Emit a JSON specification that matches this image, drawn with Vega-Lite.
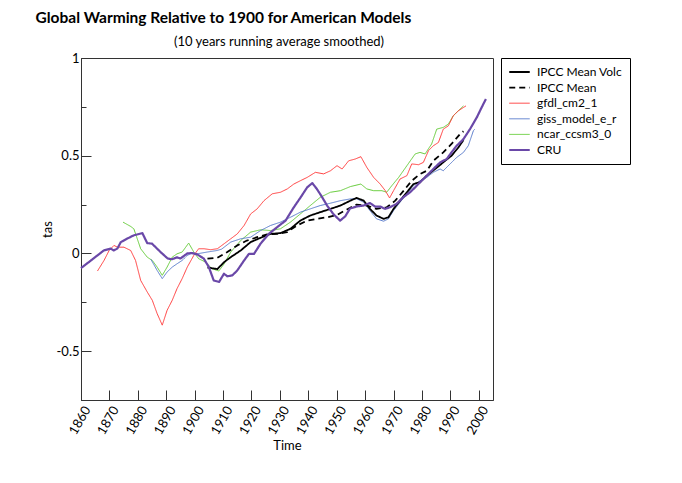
{
  "$schema": "https://vega.github.io/schema/vega-lite/v6.json",
  "padding": {"left": 35, "top": 11, "right": 5, "bottom": 5},
  "config": {
    "font": "Lato",
    "view": {"stroke": "#333", "strokeWidth": 1},
    "axis": {"labelFont": "Lato", "titleFont": "Lato", "labelFontSize": 13, "titleFontSize": 13, "titleFontWeight": "normal", "domainColor": "#333", "tickColor": "#333", "labelColor": "#000", "titleColor": "#000", "grid": false},
    "legend": {"labelFont": "Lato", "labelFontSize": 12}
  },
  "title": {"text": "Global Warming Relative to 1900 for American Models", "anchor": "start", "font": "Lato", "fontSize": 15.5, "fontWeight": "bold", "color": "#000", "dx": -5, "offset": 9},
  "vconcat": [
    {
      "title": {"text": "(10 years running average smoothed)", "font": "Lato", "fontSize": 13, "fontWeight": "normal", "anchor": "middle", "color": "#000", "dx": -8, "offset": 3},
      "width": 412,
      "height": 342,
      "data": {"values": [
        {"series": "ncar_ccsm3_0", "year": 1874.8, "tas": 0.16},
        {"series": "ncar_ccsm3_0", "year": 1877.5, "tas": 0.138},
        {"series": "ncar_ccsm3_0", "year": 1878.6, "tas": 0.126},
        {"series": "ncar_ccsm3_0", "year": 1879.8, "tas": 0.075},
        {"series": "ncar_ccsm3_0", "year": 1881, "tas": 0.024},
        {"series": "ncar_ccsm3_0", "year": 1883.3, "tas": -0.019},
        {"series": "ncar_ccsm3_0", "year": 1885.1, "tas": -0.036},
        {"series": "ncar_ccsm3_0", "year": 1886.8, "tas": -0.07},
        {"series": "ncar_ccsm3_0", "year": 1888.6, "tas": -0.112},
        {"series": "ncar_ccsm3_0", "year": 1890.3, "tas": -0.07},
        {"series": "ncar_ccsm3_0", "year": 1892.1, "tas": -0.019},
        {"series": "ncar_ccsm3_0", "year": 1893.8, "tas": -0.002},
        {"series": "ncar_ccsm3_0", "year": 1895.6, "tas": 0.007},
        {"series": "ncar_ccsm3_0", "year": 1897.9, "tas": 0.053},
        {"series": "ncar_ccsm3_0", "year": 1899.7, "tas": 0.007},
        {"series": "ncar_ccsm3_0", "year": 1901.4, "tas": -0.027},
        {"series": "ncar_ccsm3_0", "year": 1903.8, "tas": -0.044},
        {"series": "ncar_ccsm3_0", "year": 1906.1, "tas": -0.078},
        {"series": "ncar_ccsm3_0", "year": 1908.5, "tas": -0.09},
        {"series": "ncar_ccsm3_0", "year": 1910.4, "tas": -0.053},
        {"series": "ncar_ccsm3_0", "year": 1912.7, "tas": 0.007},
        {"series": "ncar_ccsm3_0", "year": 1916.2, "tas": 0.066},
        {"series": "ncar_ccsm3_0", "year": 1919.7, "tas": 0.109},
        {"series": "ncar_ccsm3_0", "year": 1923.2, "tas": 0.121},
        {"series": "ncar_ccsm3_0", "year": 1926.7, "tas": 0.117},
        {"series": "ncar_ccsm3_0", "year": 1930.2, "tas": 0.126},
        {"series": "ncar_ccsm3_0", "year": 1933.7, "tas": 0.16},
        {"series": "ncar_ccsm3_0", "year": 1937.2, "tas": 0.202},
        {"series": "ncar_ccsm3_0", "year": 1940.7, "tas": 0.245},
        {"series": "ncar_ccsm3_0", "year": 1944.2, "tas": 0.287},
        {"series": "ncar_ccsm3_0", "year": 1947.8, "tas": 0.313},
        {"series": "ncar_ccsm3_0", "year": 1951.3, "tas": 0.321},
        {"series": "ncar_ccsm3_0", "year": 1954.8, "tas": 0.342},
        {"series": "ncar_ccsm3_0", "year": 1958.5, "tas": 0.355},
        {"series": "ncar_ccsm3_0", "year": 1960.6, "tas": 0.33},
        {"series": "ncar_ccsm3_0", "year": 1963, "tas": 0.321},
        {"series": "ncar_ccsm3_0", "year": 1965.9, "tas": 0.321},
        {"series": "ncar_ccsm3_0", "year": 1967.6, "tas": 0.313},
        {"series": "ncar_ccsm3_0", "year": 1969.4, "tas": 0.347},
        {"series": "ncar_ccsm3_0", "year": 1971.8, "tas": 0.389},
        {"series": "ncar_ccsm3_0", "year": 1974.7, "tas": 0.449},
        {"series": "ncar_ccsm3_0", "year": 1977.6, "tas": 0.509},
        {"series": "ncar_ccsm3_0", "year": 1979.3, "tas": 0.517},
        {"series": "ncar_ccsm3_0", "year": 1981.1, "tas": 0.509},
        {"series": "ncar_ccsm3_0", "year": 1983.4, "tas": 0.56},
        {"series": "ncar_ccsm3_0", "year": 1985.2, "tas": 0.636},
        {"series": "ncar_ccsm3_0", "year": 1987.5, "tas": 0.645},
        {"series": "ncar_ccsm3_0", "year": 1989.3, "tas": 0.662},
        {"series": "ncar_ccsm3_0", "year": 1991, "tas": 0.704},
        {"series": "ncar_ccsm3_0", "year": 1992.8, "tas": 0.73},
        {"series": "ncar_ccsm3_0", "year": 1994.6, "tas": 0.755},
        {"series": "giss_model_e_r", "year": 1884.6, "tas": -0.03},
        {"series": "giss_model_e_r", "year": 1886.8, "tas": -0.087},
        {"series": "giss_model_e_r", "year": 1888.6, "tas": -0.129},
        {"series": "giss_model_e_r", "year": 1890.3, "tas": -0.095},
        {"series": "giss_model_e_r", "year": 1892.1, "tas": -0.07},
        {"series": "giss_model_e_r", "year": 1893.8, "tas": -0.053},
        {"series": "giss_model_e_r", "year": 1895.6, "tas": -0.036},
        {"series": "giss_model_e_r", "year": 1897.4, "tas": -0.01},
        {"series": "giss_model_e_r", "year": 1899.1, "tas": 0.002},
        {"series": "giss_model_e_r", "year": 1900.9, "tas": -0.002},
        {"series": "giss_model_e_r", "year": 1904.4, "tas": 0.007},
        {"series": "giss_model_e_r", "year": 1907.9, "tas": 0.015},
        {"series": "giss_model_e_r", "year": 1909.5, "tas": 0.022},
        {"series": "giss_model_e_r", "year": 1912.7, "tas": 0.058},
        {"series": "giss_model_e_r", "year": 1916.2, "tas": 0.075},
        {"series": "giss_model_e_r", "year": 1919.7, "tas": 0.083},
        {"series": "giss_model_e_r", "year": 1923.2, "tas": 0.117},
        {"series": "giss_model_e_r", "year": 1926.7, "tas": 0.143},
        {"series": "giss_model_e_r", "year": 1930.2, "tas": 0.16},
        {"series": "giss_model_e_r", "year": 1933.7, "tas": 0.185},
        {"series": "giss_model_e_r", "year": 1937.2, "tas": 0.211},
        {"series": "giss_model_e_r", "year": 1940.7, "tas": 0.228},
        {"series": "giss_model_e_r", "year": 1944.2, "tas": 0.245},
        {"series": "giss_model_e_r", "year": 1947.8, "tas": 0.257},
        {"series": "giss_model_e_r", "year": 1951.3, "tas": 0.27},
        {"series": "giss_model_e_r", "year": 1954.8, "tas": 0.279},
        {"series": "giss_model_e_r", "year": 1957, "tas": 0.28},
        {"series": "giss_model_e_r", "year": 1959.5, "tas": 0.262},
        {"series": "giss_model_e_r", "year": 1961.7, "tas": 0.219},
        {"series": "giss_model_e_r", "year": 1964, "tas": 0.177},
        {"series": "giss_model_e_r", "year": 1966.5, "tas": 0.165},
        {"series": "giss_model_e_r", "year": 1968.2, "tas": 0.177},
        {"series": "giss_model_e_r", "year": 1970, "tas": 0.219},
        {"series": "giss_model_e_r", "year": 1972.3, "tas": 0.262},
        {"series": "giss_model_e_r", "year": 1974.7, "tas": 0.304},
        {"series": "giss_model_e_r", "year": 1977, "tas": 0.347},
        {"series": "giss_model_e_r", "year": 1979.3, "tas": 0.372},
        {"series": "giss_model_e_r", "year": 1981.7, "tas": 0.389},
        {"series": "giss_model_e_r", "year": 1984, "tas": 0.415},
        {"series": "giss_model_e_r", "year": 1986.4, "tas": 0.432},
        {"series": "giss_model_e_r", "year": 1987.5, "tas": 0.423},
        {"series": "giss_model_e_r", "year": 1989.9, "tas": 0.458},
        {"series": "giss_model_e_r", "year": 1992.2, "tas": 0.491},
        {"series": "giss_model_e_r", "year": 1994.6, "tas": 0.517},
        {"series": "giss_model_e_r", "year": 1996.3, "tas": 0.551},
        {"series": "giss_model_e_r", "year": 1998.1, "tas": 0.628},
        {"series": "giss_model_e_r", "year": 1998.6, "tas": 0.636},
        {"series": "gfdl_cm2_1", "year": 1865.8, "tas": -0.09},
        {"series": "gfdl_cm2_1", "year": 1868.1, "tas": -0.036},
        {"series": "gfdl_cm2_1", "year": 1869.9, "tas": 0.015},
        {"series": "gfdl_cm2_1", "year": 1871.6, "tas": 0.041},
        {"series": "gfdl_cm2_1", "year": 1872.8, "tas": 0.032},
        {"series": "gfdl_cm2_1", "year": 1875.1, "tas": 0.032},
        {"series": "gfdl_cm2_1", "year": 1877.5, "tas": 0.015},
        {"series": "gfdl_cm2_1", "year": 1879.2, "tas": -0.036},
        {"series": "gfdl_cm2_1", "year": 1881, "tas": -0.138},
        {"series": "gfdl_cm2_1", "year": 1883.3, "tas": -0.197},
        {"series": "gfdl_cm2_1", "year": 1885.1, "tas": -0.24},
        {"series": "gfdl_cm2_1", "year": 1886.8, "tas": -0.308},
        {"series": "gfdl_cm2_1", "year": 1888.6, "tas": -0.367},
        {"series": "gfdl_cm2_1", "year": 1890.3, "tas": -0.291},
        {"series": "gfdl_cm2_1", "year": 1892.1, "tas": -0.24},
        {"series": "gfdl_cm2_1", "year": 1893.8, "tas": -0.18},
        {"series": "gfdl_cm2_1", "year": 1895.6, "tas": -0.129},
        {"series": "gfdl_cm2_1", "year": 1897.4, "tas": -0.07},
        {"series": "gfdl_cm2_1", "year": 1899.7, "tas": -0.01},
        {"series": "gfdl_cm2_1", "year": 1901.4, "tas": 0.024},
        {"series": "gfdl_cm2_1", "year": 1903.3, "tas": 0.024},
        {"series": "gfdl_cm2_1", "year": 1905.6, "tas": 0.019},
        {"series": "gfdl_cm2_1", "year": 1908, "tas": 0.024},
        {"series": "gfdl_cm2_1", "year": 1910.4, "tas": 0.05},
        {"series": "gfdl_cm2_1", "year": 1912.7, "tas": 0.075},
        {"series": "gfdl_cm2_1", "year": 1915, "tas": 0.1},
        {"series": "gfdl_cm2_1", "year": 1917.4, "tas": 0.143},
        {"series": "gfdl_cm2_1", "year": 1919.7, "tas": 0.202},
        {"series": "gfdl_cm2_1", "year": 1922, "tas": 0.228},
        {"series": "gfdl_cm2_1", "year": 1924.4, "tas": 0.27},
        {"series": "gfdl_cm2_1", "year": 1927.3, "tas": 0.305},
        {"series": "gfdl_cm2_1", "year": 1930.2, "tas": 0.313},
        {"series": "gfdl_cm2_1", "year": 1932.6, "tas": 0.33},
        {"series": "gfdl_cm2_1", "year": 1934.9, "tas": 0.355},
        {"series": "gfdl_cm2_1", "year": 1937.2, "tas": 0.372},
        {"series": "gfdl_cm2_1", "year": 1939.6, "tas": 0.389},
        {"series": "gfdl_cm2_1", "year": 1942.5, "tas": 0.415},
        {"series": "gfdl_cm2_1", "year": 1945.4, "tas": 0.407},
        {"series": "gfdl_cm2_1", "year": 1947.8, "tas": 0.423},
        {"series": "gfdl_cm2_1", "year": 1950.1, "tas": 0.449},
        {"series": "gfdl_cm2_1", "year": 1951.9, "tas": 0.432},
        {"series": "gfdl_cm2_1", "year": 1954.2, "tas": 0.474},
        {"series": "gfdl_cm2_1", "year": 1956.5, "tas": 0.483},
        {"series": "gfdl_cm2_1", "year": 1958.5, "tas": 0.495},
        {"series": "gfdl_cm2_1", "year": 1960.6, "tas": 0.44},
        {"series": "gfdl_cm2_1", "year": 1963, "tas": 0.389},
        {"series": "gfdl_cm2_1", "year": 1965.3, "tas": 0.355},
        {"series": "gfdl_cm2_1", "year": 1967.1, "tas": 0.321},
        {"series": "gfdl_cm2_1", "year": 1968.6, "tas": 0.284},
        {"series": "gfdl_cm2_1", "year": 1970, "tas": 0.321},
        {"series": "gfdl_cm2_1", "year": 1972.3, "tas": 0.381},
        {"series": "gfdl_cm2_1", "year": 1974.7, "tas": 0.398},
        {"series": "gfdl_cm2_1", "year": 1976.4, "tas": 0.458},
        {"series": "gfdl_cm2_1", "year": 1978.8, "tas": 0.454},
        {"series": "gfdl_cm2_1", "year": 1980.5, "tas": 0.466},
        {"series": "gfdl_cm2_1", "year": 1982.3, "tas": 0.526},
        {"series": "gfdl_cm2_1", "year": 1984, "tas": 0.551},
        {"series": "gfdl_cm2_1", "year": 1985.8, "tas": 0.568},
        {"series": "gfdl_cm2_1", "year": 1987.5, "tas": 0.636},
        {"series": "gfdl_cm2_1", "year": 1989.3, "tas": 0.653},
        {"series": "gfdl_cm2_1", "year": 1991, "tas": 0.704},
        {"series": "gfdl_cm2_1", "year": 1992.8, "tas": 0.73},
        {"series": "gfdl_cm2_1", "year": 1994.6, "tas": 0.747},
        {"series": "gfdl_cm2_1", "year": 1995.5, "tas": 0.755},
        {"series": "IPCC Mean", "year": 1904.5, "tas": -0.027},
        {"series": "IPCC Mean", "year": 1908, "tas": -0.022},
        {"series": "IPCC Mean", "year": 1911.5, "tas": 0.007},
        {"series": "IPCC Mean", "year": 1915, "tas": 0.041},
        {"series": "IPCC Mean", "year": 1918.4, "tas": 0.066},
        {"series": "IPCC Mean", "year": 1922, "tas": 0.083},
        {"series": "IPCC Mean", "year": 1925.5, "tas": 0.097},
        {"series": "IPCC Mean", "year": 1929, "tas": 0.1},
        {"series": "IPCC Mean", "year": 1932.5, "tas": 0.109},
        {"series": "IPCC Mean", "year": 1936, "tas": 0.143},
        {"series": "IPCC Mean", "year": 1939.6, "tas": 0.168},
        {"series": "IPCC Mean", "year": 1943, "tas": 0.177},
        {"series": "IPCC Mean", "year": 1946.6, "tas": 0.185},
        {"series": "IPCC Mean", "year": 1950.1, "tas": 0.197},
        {"series": "IPCC Mean", "year": 1953.6, "tas": 0.225},
        {"series": "IPCC Mean", "year": 1957, "tas": 0.25},
        {"series": "IPCC Mean", "year": 1960.6, "tas": 0.245},
        {"series": "IPCC Mean", "year": 1964, "tas": 0.228},
        {"series": "IPCC Mean", "year": 1967.6, "tas": 0.236},
        {"series": "IPCC Mean", "year": 1970.6, "tas": 0.27},
        {"series": "IPCC Mean", "year": 1973.5, "tas": 0.32},
        {"series": "IPCC Mean", "year": 1976.4, "tas": 0.372},
        {"series": "IPCC Mean", "year": 1979.3, "tas": 0.406},
        {"series": "IPCC Mean", "year": 1981.7, "tas": 0.423},
        {"series": "IPCC Mean", "year": 1984, "tas": 0.474},
        {"series": "IPCC Mean", "year": 1987.5, "tas": 0.517},
        {"series": "IPCC Mean", "year": 1990.4, "tas": 0.56},
        {"series": "IPCC Mean", "year": 1993.4, "tas": 0.611},
        {"series": "IPCC Mean", "year": 1994.6, "tas": 0.625},
        {"series": "IPCC Mean Volc", "year": 1904.5, "tas": -0.072},
        {"series": "IPCC Mean Volc", "year": 1908, "tas": -0.08},
        {"series": "IPCC Mean Volc", "year": 1910.4, "tas": -0.044},
        {"series": "IPCC Mean Volc", "year": 1912.7, "tas": -0.019},
        {"series": "IPCC Mean Volc", "year": 1916.2, "tas": 0.015},
        {"series": "IPCC Mean Volc", "year": 1919.7, "tas": 0.058},
        {"series": "IPCC Mean Volc", "year": 1923.2, "tas": 0.08},
        {"series": "IPCC Mean Volc", "year": 1926.7, "tas": 0.1},
        {"series": "IPCC Mean Volc", "year": 1930.2, "tas": 0.104},
        {"series": "IPCC Mean Volc", "year": 1933.7, "tas": 0.126},
        {"series": "IPCC Mean Volc", "year": 1937.2, "tas": 0.168},
        {"series": "IPCC Mean Volc", "year": 1940.7, "tas": 0.194},
        {"series": "IPCC Mean Volc", "year": 1944.2, "tas": 0.211},
        {"series": "IPCC Mean Volc", "year": 1947.8, "tas": 0.228},
        {"series": "IPCC Mean Volc", "year": 1951.3, "tas": 0.245},
        {"series": "IPCC Mean Volc", "year": 1954.8, "tas": 0.27},
        {"series": "IPCC Mean Volc", "year": 1957, "tas": 0.284},
        {"series": "IPCC Mean Volc", "year": 1959.5, "tas": 0.27},
        {"series": "IPCC Mean Volc", "year": 1961.7, "tas": 0.228},
        {"series": "IPCC Mean Volc", "year": 1964, "tas": 0.194},
        {"series": "IPCC Mean Volc", "year": 1966.5, "tas": 0.177},
        {"series": "IPCC Mean Volc", "year": 1968.2, "tas": 0.185},
        {"series": "IPCC Mean Volc", "year": 1970, "tas": 0.228},
        {"series": "IPCC Mean Volc", "year": 1972.3, "tas": 0.27},
        {"series": "IPCC Mean Volc", "year": 1974.7, "tas": 0.313},
        {"series": "IPCC Mean Volc", "year": 1977, "tas": 0.355},
        {"series": "IPCC Mean Volc", "year": 1979.3, "tas": 0.364},
        {"series": "IPCC Mean Volc", "year": 1981.7, "tas": 0.398},
        {"series": "IPCC Mean Volc", "year": 1984.6, "tas": 0.432},
        {"series": "IPCC Mean Volc", "year": 1987.5, "tas": 0.466},
        {"series": "IPCC Mean Volc", "year": 1990.4, "tas": 0.5},
        {"series": "IPCC Mean Volc", "year": 1992.8, "tas": 0.542},
        {"series": "IPCC Mean Volc", "year": 1994.6, "tas": 0.58},
        {"series": "CRU", "year": 1860, "tas": -0.075},
        {"series": "CRU", "year": 1863.5, "tas": -0.036},
        {"series": "CRU", "year": 1865.8, "tas": -0.01},
        {"series": "CRU", "year": 1868, "tas": 0.015},
        {"series": "CRU", "year": 1870.5, "tas": 0.025},
        {"series": "CRU", "year": 1871.5, "tas": 0.015},
        {"series": "CRU", "year": 1872.8, "tas": 0.025},
        {"series": "CRU", "year": 1874, "tas": 0.058},
        {"series": "CRU", "year": 1876.3, "tas": 0.076},
        {"series": "CRU", "year": 1878.5, "tas": 0.092},
        {"series": "CRU", "year": 1881.6, "tas": 0.104},
        {"series": "CRU", "year": 1882.3, "tas": 0.083},
        {"series": "CRU", "year": 1883.3, "tas": 0.053},
        {"series": "CRU", "year": 1885, "tas": 0.05},
        {"series": "CRU", "year": 1888, "tas": 0.007},
        {"series": "CRU", "year": 1890.5, "tas": -0.026},
        {"series": "CRU", "year": 1892, "tas": -0.03},
        {"series": "CRU", "year": 1893.8, "tas": -0.02},
        {"series": "CRU", "year": 1895, "tas": -0.026},
        {"series": "CRU", "year": 1897.4, "tas": 0},
        {"series": "CRU", "year": 1899, "tas": 0.002},
        {"series": "CRU", "year": 1900.9, "tas": -0.005},
        {"series": "CRU", "year": 1903.2, "tas": -0.026},
        {"series": "CRU", "year": 1905, "tas": -0.07},
        {"series": "CRU", "year": 1906.7, "tas": -0.138},
        {"series": "CRU", "year": 1908.6, "tas": -0.146},
        {"series": "CRU", "year": 1910.3, "tas": -0.104},
        {"series": "CRU", "year": 1911.5, "tas": -0.117},
        {"series": "CRU", "year": 1913.3, "tas": -0.112},
        {"series": "CRU", "year": 1915, "tas": -0.087},
        {"series": "CRU", "year": 1917.4, "tas": -0.036},
        {"series": "CRU", "year": 1919.1, "tas": -0.002},
        {"series": "CRU", "year": 1920.9, "tas": -0.002},
        {"series": "CRU", "year": 1923.2, "tas": 0.05},
        {"series": "CRU", "year": 1926.1, "tas": 0.1},
        {"series": "CRU", "year": 1929, "tas": 0.134},
        {"series": "CRU", "year": 1932, "tas": 0.168},
        {"series": "CRU", "year": 1934.9, "tas": 0.236},
        {"series": "CRU", "year": 1937.3, "tas": 0.287},
        {"series": "CRU", "year": 1939.6, "tas": 0.338},
        {"series": "CRU", "year": 1941.4, "tas": 0.36},
        {"series": "CRU", "year": 1943, "tas": 0.33},
        {"series": "CRU", "year": 1944.9, "tas": 0.287},
        {"series": "CRU", "year": 1946.6, "tas": 0.245},
        {"series": "CRU", "year": 1948.9, "tas": 0.2},
        {"series": "CRU", "year": 1951.2, "tas": 0.168},
        {"series": "CRU", "year": 1953, "tas": 0.19},
        {"series": "CRU", "year": 1954.7, "tas": 0.23},
        {"series": "CRU", "year": 1957, "tas": 0.24},
        {"series": "CRU", "year": 1959.4, "tas": 0.245},
        {"series": "CRU", "year": 1961.7, "tas": 0.258},
        {"series": "CRU", "year": 1963.5, "tas": 0.24},
        {"series": "CRU", "year": 1965.3, "tas": 0.24},
        {"series": "CRU", "year": 1967, "tas": 0.228},
        {"series": "CRU", "year": 1968.7, "tas": 0.236},
        {"series": "CRU", "year": 1971, "tas": 0.253},
        {"series": "CRU", "year": 1973.4, "tas": 0.287},
        {"series": "CRU", "year": 1975.8, "tas": 0.313},
        {"series": "CRU", "year": 1977.6, "tas": 0.338},
        {"series": "CRU", "year": 1979.3, "tas": 0.364},
        {"series": "CRU", "year": 1981.7, "tas": 0.398},
        {"series": "CRU", "year": 1984, "tas": 0.432},
        {"series": "CRU", "year": 1986.4, "tas": 0.466},
        {"series": "CRU", "year": 1988.7, "tas": 0.483},
        {"series": "CRU", "year": 1990.4, "tas": 0.517},
        {"series": "CRU", "year": 1992.2, "tas": 0.551},
        {"series": "CRU", "year": 1994.6, "tas": 0.585},
        {"series": "CRU", "year": 1996.9, "tas": 0.636},
        {"series": "CRU", "year": 1999.3, "tas": 0.696},
        {"series": "CRU", "year": 2001, "tas": 0.747},
        {"series": "CRU", "year": 2002.5, "tas": 0.79}
      ]},
      "encoding": {
        "x": {"field": "year", "type": "quantitative", "title": "Time",
          "scale": {"domain": [1860, 2005], "nice": false, "zero": false},
          "axis": {"values": [1860, 1870, 1880, 1890, 1900, 1910, 1920, 1930, 1940, 1950, 1960, 1970, 1980, 1990, 2000], "format": "d", "labelAngle": -60, "labelAlign": "right", "labelBaseline": "middle", "tickSize": -10, "labelPadding": 17, "labelOffset": 6, "titlePadding": 3}}
      },
      "layer": [
        {
          "mark": {"type": "line", "strokeCap": "butt", "strokeJoin": "round"},
          "encoding": {
            "y": {"field": "tas", "type": "quantitative", "title": "tas",
              "scale": {"domain": [-0.75, 1], "nice": false, "zero": false},
              "axis": {"values": [-0.5, 0, 0.5, 1], "labelExpr": "'' + datum.value", "tickSize": -10, "labelPadding": 12, "titlePadding": 2}},
            "color": {"field": "series", "type": "nominal",
              "scale": {"domain": ["IPCC Mean Volc", "IPCC Mean", "gfdl_cm2_1", "giss_model_e_r", "ncar_ccsm3_0", "CRU"], "range": ["#000000", "#000000", "#ff3a3a", "#5a7ccc", "#66cc3a", "#6a48a8"]},
              "legend": {"title": null, "orient": "right", "offset": 7, "strokeColor": "#000", "padding": 7, "labelFontSize": 12, "symbolSize": 420, "clipHeight": 14, "rowPadding": 1.6, "labelOffset": 6, "symbolType": "stroke"}},
            "strokeDash": {"field": "series", "type": "nominal",
              "scale": {"domain": ["IPCC Mean Volc", "IPCC Mean", "gfdl_cm2_1", "giss_model_e_r", "ncar_ccsm3_0", "CRU"], "range": [[1, 0], [6, 4], [1, 0], [1, 0], [1, 0], [1, 0]]},
              "legend": {"title": null}},
            "strokeWidth": {"field": "series", "type": "nominal",
              "scale": {"type": "ordinal", "domain": ["IPCC Mean Volc", "IPCC Mean", "gfdl_cm2_1", "giss_model_e_r", "ncar_ccsm3_0", "CRU"], "range": [1.8, 1.8, 1, 1, 1, 2.2]},
              "legend": {"title": null}}
          }
        },
        {
          "mark": {"type": "point", "opacity": 0},
          "encoding": {
            "y": {"field": "tas", "type": "quantitative",
              "axis": {"orient": "left", "values": [-0.25, 0.25, 0.75], "labels": false, "domain": false, "tickSize": -5, "title": null}}
          }
        }
      ],
      "resolve": {"axis": {"y": "independent"}}
    }
  ]
}
